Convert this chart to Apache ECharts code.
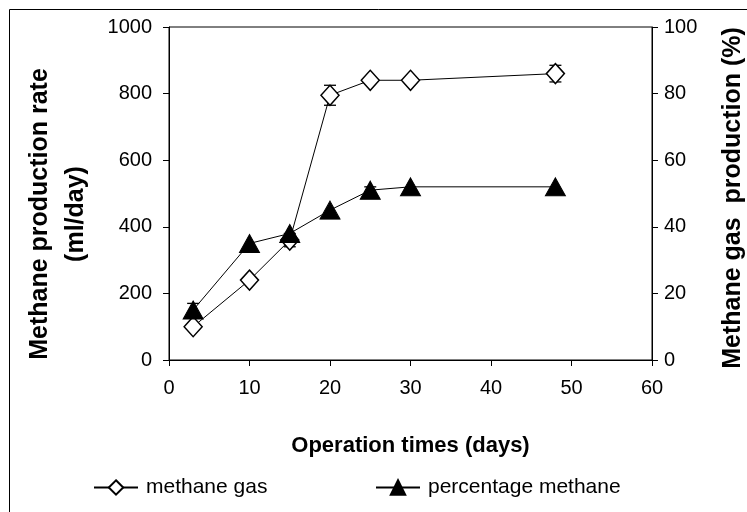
<!DOCTYPE html>
<html><head><meta charset="utf-8">
<script src="https://cdn.jsdelivr.net/npm/echarts@6/dist/echarts.min.js"></script>
<style>html,body{margin:0;padding:0;background:#fff}#c{width:747px;height:512px}</style>
</head><body><div id="c"></div>
<script>
const days = [3, 10, 15, 20, 25, 30, 48];
const methaneGas = [100, 240, 360, 795, 840, 840, 860];
const methaneGasErr = [0, 0, 20, 30, 0, 0, 25];
const percentMethane = [15, 35, 38, 45, 51, 52, 52];
const percentMethaneErr = [2, 0, 0, 0, 1, 0, 0];
const xTicks = [0, 10, 20, 30, 40, 50, 60];

const font = '"Liberation Sans", Arial, sans-serif';
const chart = echarts.init(document.getElementById('c'));

function errSeries(vals, errs, yIdx) {
  return {
    type: 'custom', yAxisIndex: yIdx, silent: true, z: 1,
    data: days.map((d, i) => [d, vals[i], errs[i]]).filter(p => p[2] > 0),
    renderItem: function (params, api) {
      const x = api.value(0), v = api.value(1), e = api.value(2);
      const hi = api.coord([x, v + e]), lo = api.coord([x, v - e]);
      const w = 6;
      const st = {stroke: '#000', lineWidth: 1.3};
      return {type: 'group', children: [
        {type: 'line', shape: {x1: hi[0], y1: hi[1], x2: lo[0], y2: lo[1]}, style: st},
        {type: 'line', shape: {x1: hi[0] - w, y1: hi[1], x2: hi[0] + w, y2: hi[1]}, style: st},
        {type: 'line', shape: {x1: lo[0] - w, y1: lo[1], x2: lo[0] + w, y2: lo[1]}, style: st}
      ]};
    }
  };
}

const labelStyle = {color: '#000', fontFamily: font, fontSize: 20, formatter: v => String(v)};
const axisCommon = {
  axisLine: {show: true, lineStyle: {color: '#000', width: 1}},
  axisTick: {show: true, length: 6, lineStyle: {color: '#000'}},
  splitLine: {show: false}
};
const legendText = {color: '#000', fontFamily: font, fontSize: 21, padding: [0, 0, 0, 3]};

chart.setOption({
  animation: false,
  backgroundColor: '#fff',
  grid: {left: 169, right: 95, top: 27, bottom: 152, show: true, borderColor: '#000', borderWidth: 1},
  xAxis: Object.assign({}, axisCommon, {
    type: 'value', min: 0, max: 60, interval: 10,
    axisLabel: Object.assign({}, labelStyle, {margin: 18}),
    name: 'Operation times (days)', nameLocation: 'middle', nameGap: 75,
    nameTextStyle: {color: '#000', fontFamily: font, fontSize: 22, fontWeight: 'bold'}
  }),
  yAxis: [
    Object.assign({}, axisCommon, {type: 'value', min: 0, max: 1000, interval: 200, position: 'left',
      axisLabel: Object.assign({}, labelStyle, {margin: 17})}),
    Object.assign({}, axisCommon, {type: 'value', min: 0, max: 100, interval: 20, position: 'right',
      axisLabel: Object.assign({}, labelStyle, {margin: 12})})
  ],
  legend: [
    {top: 472, left: 88, itemWidth: 44, itemHeight: 18, textStyle: legendText, data: ['methane gas']},
    {top: 472, left: 370, itemWidth: 44, itemHeight: 18, textStyle: legendText, data: ['percentage methane']}
  ],
  graphic: [
    {type: 'rect', shape: {x: 9.5, y: 9.5, width: 760, height: 540}, style: {fill: 'none', stroke: '#000', lineWidth: 1}, silent: true},
    {type: 'text', x: 58, y: 214, rotation: Math.PI / 2, style: {text: 'Methane production rate\n(ml/day)', align: 'center', verticalAlign: 'middle', font: 'bold 25px ' + font, fill: '#000', lineHeight: 36}},
    {type: 'text', x: 733, y: 198, rotation: Math.PI / 2, style: {text: 'Methane gas  production (%)', align: 'center', verticalAlign: 'middle', font: 'bold 25px ' + font, fill: '#000'}}
  ],
  series: [
    errSeries(methaneGas, methaneGasErr, 0),
    errSeries(percentMethane, percentMethaneErr, 1),
    {name: 'methane gas', type: 'line', yAxisIndex: 0, z: 3,
      data: days.map((d, i) => [d, methaneGas[i]]),
      symbol: 'diamond', symbolSize: [18, 20], showAllSymbol: true,
      lineStyle: {color: '#000', width: 1},
      itemStyle: {color: '#fff', borderColor: '#000', borderWidth: 1.5}},
    {name: 'percentage methane', type: 'line', yAxisIndex: 1, z: 4,
      data: days.map((d, i) => [d, percentMethane[i]]),
      symbol: 'triangle', symbolSize: [20, 18], showAllSymbol: true,
      lineStyle: {color: '#000', width: 1},
      itemStyle: {color: '#000', borderColor: '#000', borderWidth: 1}}
  ]
});
</script></body></html>
